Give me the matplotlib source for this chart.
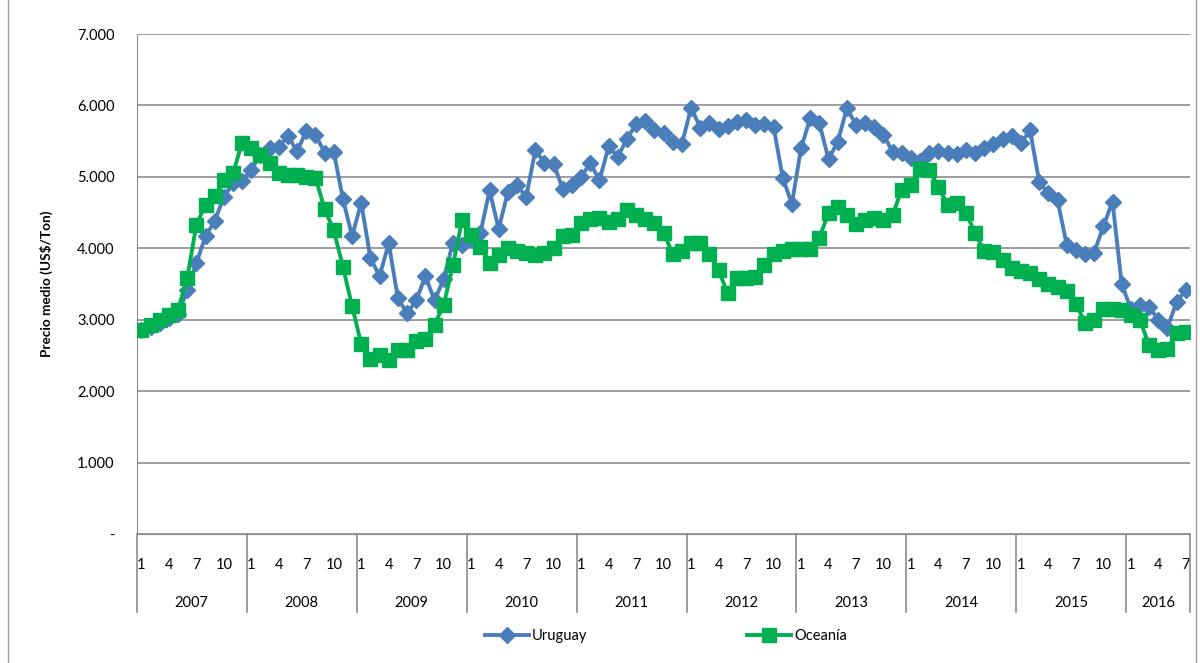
import numpy as np
import matplotlib.pyplot as plt
import matplotlib.transforms as mtransforms

plt.rcParams['font.family'] = ['Lato', 'DejaVu Sans']

years = ['2007', '2008', '2009', '2010', '2011', '2012', '2013', '2014', '2015', '2016']
months_per_year = [12, 12, 12, 12, 12, 12, 12, 12, 12, 7]

uruguay = [
    2850, 2900, 2960, 3020, 3080, 3410, 3790, 4170, 4380, 4720, 4910, 4940,
    5100, 5310, 5400, 5420, 5570, 5360, 5640, 5590, 5340, 5350, 4690, 4170,
    4640, 3860, 3610, 4070, 3300, 3090, 3270, 3610, 3270, 3570, 4080, 4050,
    4130, 4210, 4810, 4270, 4790, 4880, 4720, 5370, 5200, 5180, 4830, 4890,
    5000, 5190, 4950, 5430, 5280, 5530, 5740, 5780, 5660, 5620, 5490, 5460,
    5970, 5690, 5750, 5670, 5710, 5770, 5800, 5730, 5740, 5700, 4990, 4620,
    5400, 5820, 5750, 5250, 5490, 5960, 5730, 5750, 5700, 5590, 5350, 5340,
    5270, 5220, 5340, 5360, 5330, 5320, 5370, 5340, 5410, 5460, 5530, 5570,
    5470, 5650, 4930, 4770, 4670, 4050, 3980, 3920, 3940, 4310, 4650, 3500,
    3150, 3200, 3180, 3000, 2890, 3250, 3420,
]

oceania = [
    2860, 2920, 2990, 3070, 3140, 3580, 4330, 4610, 4730, 4950, 5050, 5480,
    5400, 5310, 5190, 5060, 5030, 5020, 5000, 4990, 4550, 4250, 3740, 3190,
    2660, 2450, 2510, 2430, 2570, 2580, 2700, 2730, 2930, 3210, 3760, 4390,
    4190, 4020, 3800, 3910, 4010, 3960, 3930, 3900, 3940, 4010, 4170, 4180,
    4350, 4410, 4420, 4370, 4410, 4530, 4460, 4410, 4360, 4220, 3920, 3960,
    4080, 4070, 3920, 3690, 3370, 3590, 3590, 3600, 3770, 3920, 3960, 3990,
    3990, 3990, 4150, 4490, 4580, 4470, 4340, 4400, 4420, 4390, 4470, 4820,
    4890, 5110, 5090, 4860, 4600, 4630, 4500, 4210, 3960, 3950, 3840, 3730,
    3680, 3650, 3570, 3500, 3460, 3400, 3220, 2960, 3000, 3150, 3150, 3130,
    3070, 2990, 2640, 2570, 2590, 2810, 2830,
]

month_labels = ['1', '4', '7', '10']

blue = '#4A7EBB'
green = '#00B050'
grid_col = '#8C8C8C'

fig = plt.figure(figsize=(12, 6.63), dpi=100)
ax = fig.add_axes([0.114, 0.1946, 0.878, 0.7541])

x = np.arange(len(uruguay))
ax.plot(x, uruguay, color=blue, lw=2.8, marker='D', ms=8, label='Uruguay', zorder=3)
ax.plot(x, oceania, color=green, lw=2.8, marker='s', ms=10, label='Oceanía', zorder=4)

ax.set_xlim(-0.5, len(x) - 0.5)
ax.set_ylim(0, 7000)
yt = np.arange(0, 7001, 1000)
ax.set_yticks(yt)
ax.set_yticklabels(['-'] + ['{:,}'.format(v).replace(',', '.') for v in yt[1:]], fontsize=10.5)
ax.yaxis.grid(True, color=grid_col, lw=1.2)
ax.set_axisbelow(True)
ax.tick_params(axis='y', length=0, pad=16)
ax.set_ylabel('Precio medio (US$/Ton)', fontsize=9.8, fontweight='bold')
ax.yaxis.set_label_coords(-0.08, 0.5)

for s in ['top', 'right']:
    ax.spines[s].set_visible(False)
ax.spines['left'].set_color(grid_col)
ax.spines['bottom'].set_color(grid_col)

# month ticks (1, 4, 7, 10 of every year)
pos, labs = [], []
start = 0
for n in months_per_year:
    for m in range(n):
        if m % 3 == 0:
            pos.append(start + m)
            labs.append(month_labels[m // 3])
    start += n
ax.set_xticks(pos)
ax.set_xticklabels(labs, fontsize=10.5)
ax.tick_params(axis='x', length=0, pad=17)

# year labels and separators under the axis
trans = mtransforms.blended_transform_factory(ax.transData, ax.transAxes)
start = 0
bounds = [-0.5]
for yr, n in zip(years, months_per_year):
    ax.text(start + (n - 1) / 2, -0.138, yr, transform=trans, ha='center', va='center',
            fontsize=10.5)
    start += n
    bounds.append(start - 0.5)
for b in bounds:
    ax.plot([b, b], [0, -0.157], transform=trans, color=grid_col, lw=1.2, clip_on=False)

fig.legend(loc='center', bbox_to_anchor=(0.555, 0.04), ncol=2, frameon=False,
           fontsize=10.5, handlelength=3, handletextpad=0.2, columnspacing=11)

fig.patches.append(plt.Rectangle((0.007, -0.01), 0.99, 1.02, transform=fig.transFigure,
                                 fill=False, edgecolor='#A0A0A0', lw=1))

fig.savefig('out.png', dpi=100)
